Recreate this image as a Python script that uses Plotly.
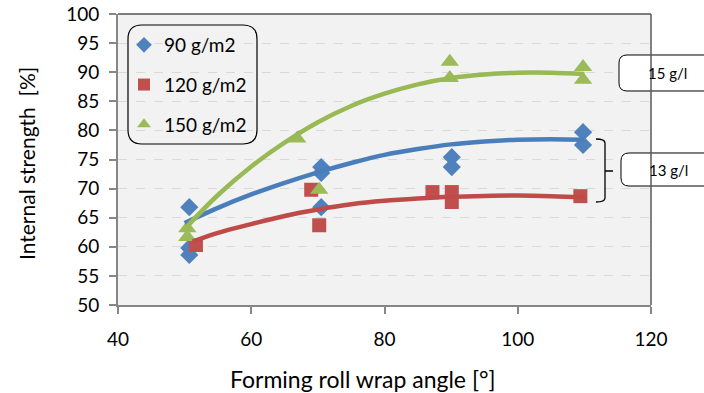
import plotly.graph_objects as go

# ---------------- data ----------------
series_names = ["90 g/m2", "120 g/m2", "150 g/m2"]

x_90 = [50.7, 50.7, 50.7, 70.5, 70.5, 70.5, 90.1, 90.1, 109.8, 109.8]
y_90 = [66.8, 59.8, 58.6, 73.7, 72.7, 66.8, 75.4, 73.7, 79.7, 77.5]

x_120 = [51.7, 69.0, 70.2, 87.2, 90.1, 90.1, 109.4]
y_120 = [60.3, 69.8, 63.7, 69.4, 69.4, 67.7, 68.7]

x_150 = [50.4, 50.4, 66.9, 70.2, 89.8, 89.8, 109.8, 109.8]
y_150 = [63.2, 61.7, 78.6, 69.8, 91.8, 89.0, 90.9, 88.7]

# trend curves
trend_x_90 = [50.0, 55.0, 60.0, 65.0, 70.0, 75.0, 80.0, 85.0, 90.0, 95.0, 100.0, 105.0, 110.0]
trend_y_90 = [64.1, 66.7, 69.0, 71.0, 72.8, 74.4, 75.8, 76.8, 77.6, 78.1, 78.4, 78.5, 78.4]

trend_x_120 = [51.2, 55.0, 60.0, 65.0, 70.0, 75.0, 80.0, 85.0, 90.0, 95.0, 100.0, 105.0, 110.2]
trend_y_120 = [60.9, 62.4, 63.9, 65.3, 66.4, 67.3, 67.9, 68.3, 68.6, 68.75, 68.8, 68.7, 68.5]

trend_x_150 = [50.2, 55.0, 60.0, 65.0, 70.0, 75.0, 80.0, 85.0, 90.0, 95.0, 100.0, 105.0, 110.0]
trend_y_150 = [63.3, 68.9, 73.8, 77.9, 81.4, 84.2, 86.3, 87.9, 89.0, 89.6, 89.9, 89.9, 89.7]

x_ticks = [40, 60, 80, 100, 120]
y_ticks = [50, 55, 60, 65, 70, 75, 80, 85, 90, 95, 100]

x_title = "Forming roll wrap angle [°]"
y_title = "Internal strength  [%]"
note_15 = "15 g/l"
note_13 = "13 g/l"

# ---------------- style ----------------
FONT = "Lato, Carlito, 'Open Sans', sans-serif"
W, H = 704, 393
L, R, T, B = 118, 651, 14, 305

def px(xp):
    return (xp - L) / (R - L)

def py(yp):
    return (B - yp) / (B - T)

def rounded_rect(x0, y0, x1, y1, r):
    p = lambda a, b: f"{px(a):.5f},{py(b):.5f}"
    return (f"M {p(x0 + r, y0)} L {p(x1 - r, y0)} Q {p(x1, y0)} {p(x1, y0 + r)} "
            f"L {p(x1, y1 - r)} Q {p(x1, y1)} {p(x1 - r, y1)} "
            f"L {p(x0 + r, y1)} Q {p(x0, y1)} {p(x0, y1 - r)} "
            f"L {p(x0, y0 + r)} Q {p(x0, y0)} {p(x0 + r, y0)} Z")

fig = go.Figure()

line_cols = ["#4a7ebb", "#be4b48", "#98b954"]
mark_cols = ["#4f81bd", "#c0504d", "#9bbb59"]

# markers
for i, (xs, ys, sym, sz) in enumerate([
    (x_90, y_90, "diamond", 14),
    (x_120, y_120, "square", 14),
    (x_150, y_150, "triangle-up", 16),
]):
    fig.add_trace(go.Scatter(
        x=xs, y=ys, mode="markers", name=series_names[i],
        legendgroup=series_names[i],
        marker=dict(symbol=sym, size=sz, color=mark_cols[i], line=dict(width=0)),
    ))

# trend lines
for i, (tx, ty) in enumerate([
    (trend_x_90, trend_y_90),
    (trend_x_120, trend_y_120),
    (trend_x_150, trend_y_150),
]):
    fig.add_trace(go.Scatter(
        x=tx, y=ty, mode="lines", showlegend=False, hoverinfo="skip",
        line=dict(color=line_cols[i], width=4.5, shape="spline", smoothing=1.0),
    ))

shapes = [
    # legend box
    dict(type="path", xref="paper", yref="paper",
         path=rounded_rect(128, 25, 257, 144, 14),
         line=dict(color="#000000", width=1.2), fillcolor="rgba(255,255,255,0)", layer="above"),
    # note boxes
    dict(type="path", xref="paper", yref="paper",
         path=rounded_rect(619, 55, 712, 91, 8),
         line=dict(color="#000000", width=1), fillcolor="#ffffff"),
    dict(type="path", xref="paper", yref="paper",
         path=rounded_rect(621, 153, 712, 186, 8),
         line=dict(color="#000000", width=1), fillcolor="#ffffff"),
    # bracket
    dict(type="path", xref="paper", yref="paper",
         path=(f"M {px(596):.5f},{py(139):.5f} Q {px(605):.5f},{py(139):.5f} {px(605):.5f},{py(143):.5f} "
               f"L {px(605):.5f},{py(198):.5f} Q {px(605):.5f},{py(202):.5f} {px(596):.5f},{py(202):.5f} "
               f"M {px(605):.5f},{py(171):.5f} L {px(613):.5f},{py(171):.5f}"),
         line=dict(color="#000000", width=1.3)),
    # top and right border
    dict(type="line", xref="paper", yref="paper", x0=0, x1=1, y0=1, y1=1,
         line=dict(color="#000000", width=1)),
    dict(type="line", xref="paper", yref="paper", x0=1, x1=1, y0=0, y1=1,
         line=dict(color="#595959", width=1.5)),
]

def ann(text, xp, yp, size, angle=0):
    return dict(text=text, xref="paper", yref="paper", x=px(xp), y=py(yp),
                xanchor="center", yanchor="middle", textangle=angle,
                showarrow=False, font=dict(family=FONT, size=size, color="#000000"))

annotations = [
    ann(note_15, 667, 73, 15),
    ann(note_13, 668, 170, 15),
    ann(x_title, 363, 379, 23),
    ann(y_title, 27, 164, 21, -90),
]

fig.update_layout(
    width=W, height=H,
    margin=dict(l=L, r=W - R, t=T, b=H - B, pad=0, autoexpand=False),
    paper_bgcolor="#ffffff",
    plot_bgcolor="#f2f2f2",
    font=dict(family=FONT, size=19, color="#000000"),
    showlegend=True,
    legend=dict(
        x=px(124), y=py(26), xanchor="left", yanchor="top",
        bgcolor="rgba(0,0,0,0)", borderwidth=0,
        font=dict(family=FONT, size=19, color="#000000"),
        tracegroupgap=12, itemsizing="constant",
    ),
    shapes=shapes,
    annotations=annotations,
    xaxis=dict(
        range=[40, 120], tickvals=x_ticks, ticktext=[str(v) for v in x_ticks],
        showgrid=False, zeroline=False, automargin=False,
        showline=True, linecolor="#868686", linewidth=2,
        ticks="outside", ticklen=7, tickwidth=2, tickcolor="#868686",
        ticklabelstandoff=9,
        tickfont=dict(family=FONT, size=19, color="#000000"),
    ),
    yaxis=dict(
        range=[50, 100], tickvals=y_ticks, ticktext=[str(v) for v in y_ticks],
        showgrid=True, gridcolor="#d9d9d9", griddash="dash", gridwidth=1,
        zeroline=False, automargin=False,
        showline=True, linecolor="#868686", linewidth=2,
        ticks="outside", ticklen=7, tickwidth=2, tickcolor="#868686",
        ticklabelstandoff=6,
        tickfont=dict(family=FONT, size=19, color="#000000"),
    ),
)

fig.write_html("out.html")
